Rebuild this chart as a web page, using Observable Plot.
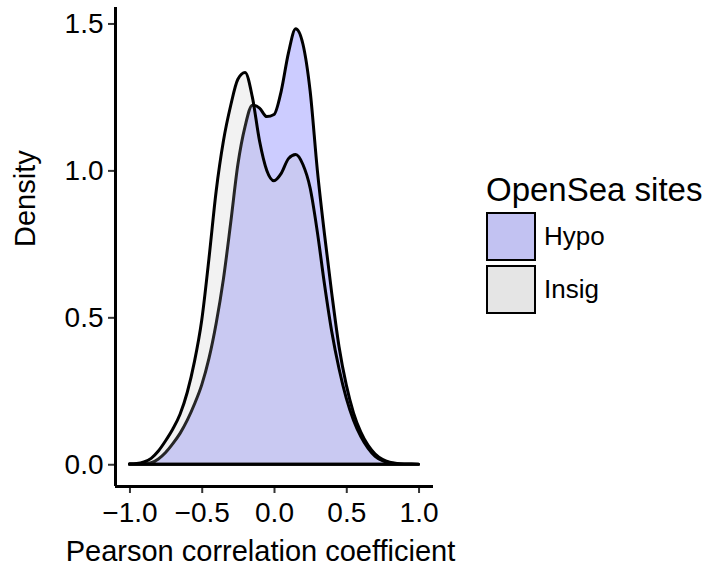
<!DOCTYPE html>
<html>
<head>
<meta charset="utf-8">
<script src="https://cdn.jsdelivr.net/npm/d3@7"></script>
<script src="https://cdn.jsdelivr.net/npm/@observablehq/plot@0.6"></script>
<style>
  html, body { margin: 0; padding: 0; background: #fff; }
  #wrap { position: relative; width: 705px; height: 569px; font-family: "Liberation Sans", Arial, Helvetica, sans-serif; }
  #wrap svg { position: absolute; left: 0; top: 0; }
  #legend { position: absolute; left: 486px; top: 170px; color: #000; }
  #legend .title { font-size: 33px; line-height: 40px; white-space: nowrap; }
  #legend .row { display: flex; align-items: center; height: 53px; }
  #legend .key { width: 46px; height: 45px; border: 2.5px solid #000; box-sizing: content-box; margin-right: 8px; }
  #legend .lab { font-size: 26px; }
</style>
</head>
<body>
<div id="wrap"></div>
<script>
// Categories and colours
const categories = ["Hypo", "Insig"];
const keyColors = ["#c2c2f2", "#e5e5e5"];

// Evaluation grid (Pearson correlation coefficient)
const xs = [-1.0, -0.95, -0.9, -0.85, -0.8, -0.75, -0.7, -0.65, -0.6, -0.55,
            -0.5, -0.45, -0.4, -0.35, -0.3, -0.25, -0.2, -0.15, -0.1, -0.05,
             0.0, 0.05, 0.1, 0.15, 0.2, 0.25, 0.3, 0.35, 0.4, 0.45,
             0.5, 0.55, 0.6, 0.65, 0.7, 0.75, 0.8, 0.85, 0.9, 0.95, 1.0];

// Density values
const hypoDensity = [0.001, 0.001, 0.002, 0.005, 0.018, 0.04, 0.07, 0.105, 0.15, 0.205,
                     0.27, 0.36, 0.48, 0.63, 0.82, 1.02, 1.15, 1.222, 1.212, 1.183,
                     1.19, 1.27, 1.40, 1.482, 1.43, 1.27, 1.00, 0.78, 0.58, 0.40,
                     0.27, 0.175, 0.11, 0.065, 0.035, 0.017, 0.007, 0.003, 0.001, 0.0005, 0.0002];
const insigDensity = [0.002, 0.003, 0.008, 0.02, 0.045, 0.08, 0.12, 0.17, 0.245, 0.35,
                      0.49, 0.70, 0.93, 1.10, 1.22, 1.31, 1.333, 1.25, 1.10, 1.00,
                      0.965, 0.99, 1.04, 1.054, 1.02, 0.94, 0.79, 0.61, 0.45, 0.325,
                      0.225, 0.15, 0.095, 0.055, 0.027, 0.012, 0.005, 0.002, 0.001, 0.0005, 0.0002];

// Axis ticks and domains
const xTicks = [-1.0, -0.5, 0.0, 0.5, 1.0];
const yTicks = [0.0, 0.5, 1.0, 1.5];
const xDomain = [-1.1, 1.1];
const yDomain = [-0.074, 1.556];
const xLabel = "Pearson correlation coefficient";
const yLabel = "Density";
const legendTitle = "OpenSea sites";

const hypoRows = xs.map((x, i) => ({x, density: hypoDensity[i], site: categories[0]}));
const insigRows = xs.map((x, i) => ({x, density: insigDensity[i], site: categories[1]}));

const curve = "monotone-x";

const chart = Plot.plot({
  width: 705,
  height: 569,
  marginLeft: 115,
  marginRight: 272,
  marginTop: 7,
  marginBottom: 83,
  style: {fontFamily: "'Liberation Sans', Arial, Helvetica, sans-serif", color: "#000", background: "transparent"},
  x: {domain: xDomain},
  y: {domain: yDomain},
  marks: [
    Plot.areaY(hypoRows, {x: "x", y: "density", fill: "#ccccff", stroke: "#000", strokeWidth: 3, strokeLinejoin: "round", curve}),
    Plot.areaY(insigRows, {x: "x", y: "density", fill: "rgb(189,189,189)", fillOpacity: 0.2, stroke: "#000", strokeWidth: 3, strokeLinejoin: "round", curve}),
    Plot.axisY({ticks: yTicks, tickFormat: ".1f", tickSize: 7, tickPadding: 5, fontSize: 28, stroke: "#333", strokeWidth: 2, label: null}),
    Plot.axisX({ticks: xTicks, tickFormat: ".1f", tickSize: 7, tickPadding: 9, fontSize: 28, stroke: "#333", strokeWidth: 2, label: null}),
    Plot.ruleX([xDomain[0]], {stroke: "#000", strokeWidth: 3}),
    Plot.ruleY([yDomain[0]], {stroke: "#000", strokeWidth: 3}),
    Plot.text([xLabel], {frameAnchor: "bottom", dx: -14, dy: 74, fontSize: 29, fill: "#000"}),
    Plot.text([yLabel], {frameAnchor: "left", dx: -90, rotate: -90, fontSize: 29, fill: "#000"})
  ]
});

const wrap = document.getElementById("wrap");
wrap.appendChild(chart);

const legend = document.createElement("div");
legend.id = "legend";
let html = `<div class="title">${legendTitle}</div>`;
categories.forEach((c, i) => {
  html += `<div class="row"><div class="key" style="background:${keyColors[i]}"></div><div class="lab">${c}</div></div>`;
});
legend.innerHTML = html;
wrap.appendChild(legend);
</script>
</body>
</html>
